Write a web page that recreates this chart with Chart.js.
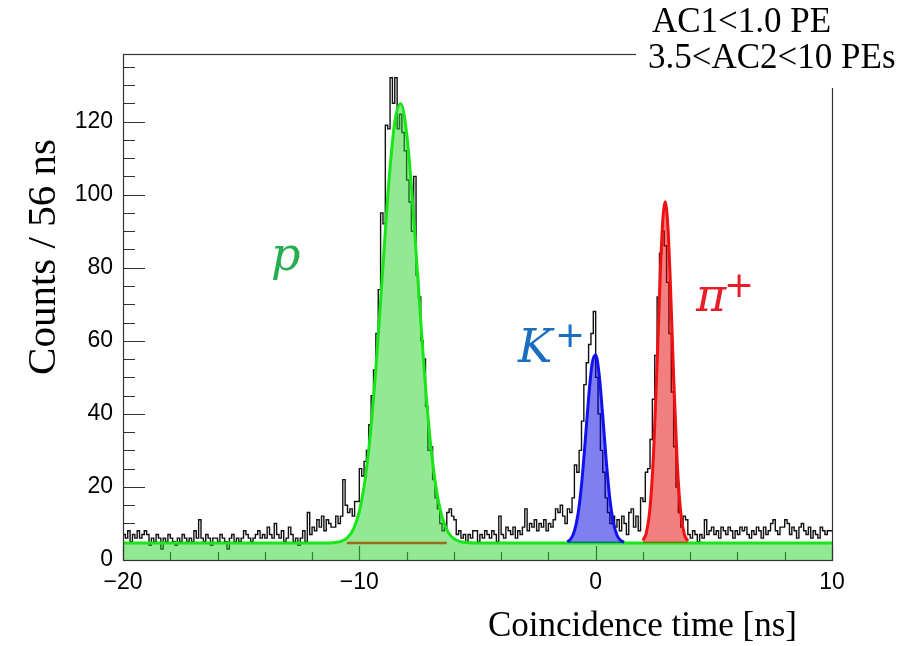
<!DOCTYPE html>
<html lang="en">
<head>
<meta charset="UTF-8">
<title>Coincidence time</title>
<script src="https://cdn.jsdelivr.net/npm/chart.js"></script>
<style>
    body { margin: 0; background: #fff; }
    #wrap { width: 912px; height: 646px; }
</style>
</head>
<body>
<div id="wrap"><canvas id="tofChart" width="912" height="646"></canvas></div>
<script>
// histogram, 0.1 ns bins from -20 to 10 ns
const binStart = -20;
const binWidth = 0.1;
const counts = [
    8, 7, 6, 8, 5, 7, 6, 8, 6, 7,
    8, 7, 4, 6, 5, 7, 6, 3, 6, 5,
    7, 6, 5, 4, 6, 5, 7, 6, 5, 6,
    5, 8, 6, 11, 6, 5, 7, 6, 4, 6,
    6, 5, 7, 6, 5, 3, 6, 7, 5, 6,
    5, 6, 8, 7, 6, 5, 6, 7, 8, 6,
    7, 6, 9, 7, 6, 10, 7, 6, 8, 5,
    6, 9, 7, 5, 6, 4, 6, 8, 5, 13,
    7, 9, 8, 11, 9, 12, 8, 11, 10, 9,
    9, 12, 10, 12, 22, 15, 13, 14, 12, 16,
    16, 25, 23, 27, 30, 37, 45, 52, 62, 74,
    95, 92, 119, 118, 132, 125, 132, 118, 122, 117,
    112, 104, 98, 90, 105, 78, 72, 60, 55, 42,
    30, 31, 22, 17, 14, 10, 8, 9, 13, 14,
    12, 11, 7, 8, 6, 7, 5, 7, 6, 8,
    8, 5, 7, 6, 8, 7, 6, 8, 7, 5,
    12, 7, 6, 9, 8, 7, 9, 6, 8, 7,
    9, 14, 8, 10, 9, 11, 8, 10, 9, 11,
    8, 10, 9, 11, 14, 13, 15, 12, 10, 14,
    13, 17, 26, 24, 30, 38, 48, 54, 59, 62,
    68, 50, 40, 30, 24, 17, 13, 10, 12, 9,
    11, 8, 12, 10, 7, 13, 14, 9, 12, 8,
    17, 16, 24, 25, 33, 44, 56, 72, 84, 90,
    86, 76, 62, 46, 31, 20, 13, 9, 12, 11,
    7, 6, 8, 7, 5, 7, 6, 11, 7, 8,
    9, 7, 8, 6, 9, 8, 7, 9, 8, 6,
    8, 7, 9, 8, 9, 7, 6, 8, 7, 9,
    8, 6, 9, 7, 8, 10, 11, 8, 7, 9,
    9, 11, 10, 7, 9, 8, 6, 9, 10, 8,
    7, 9, 6, 8, 7, 6, 9, 8, 7, 8
];

// fitted curves
const protonX = [-20, -11.5, -11.0, -10.75, -10.5, -10.25, -10.0, -9.75, -9.5, -9.25, -9.0, -8.75, -8.5, -8.25,
    -8.0, -7.75, -7.5, -7.25, -7.0, -6.75, -6.5, -6.25, -6.0, -5.75, -5.5, -5.0, 10];
const protonY = [4.65, 4.66, 4.82, 5.18, 6.16, 8.48, 13.3, 22.3, 36.7, 56.8, 80.5, 103.5, 119.9, 124.9,
    116.9, 98.4, 74.7, 51.5, 32.7, 19.7, 11.8, 7.7, 5.83, 5.06, 4.78, 4.66, 4.65];
const bgX = [-10.53, -6.3];
const bgY = [4.65, 4.65];
const kaonX = [-1.2, -1.05, -0.9, -0.75, -0.6, -0.45, -0.3, -0.15, 0, 0.15, 0.3, 0.45, 0.6, 0.75, 0.9, 1.05, 1.2];
const kaonY = [5.0, 5.81, 7.91, 12.45, 20.45, 31.85, 44.3, 53.75, 56.2, 50.6, 39.4, 26.95, 16.8, 10.26, 6.85, 5.38, 4.86];
const pionX = [2.0, 2.15, 2.3, 2.45, 2.6, 2.75, 2.85, 2.94, 3.05, 3.15, 3.3, 3.45, 3.6, 3.75, 3.9];
const pionY = [5.34, 7.57, 14.24, 29.25, 53.8, 81.05, 93.95, 98.05, 91.95, 77.75, 50.1, 26.65, 12.95, 7.09, 5.21];

const xTicks = [-20, -10, 0, 10];
const yTicks = [0, 20, 40, 60, 80, 100, 120];

const pts = (xs, ys) => xs.map((x, i) => ({ x: x, y: ys[i] }));

const histPts = counts.map((c, i) => ({ x: binStart + i * binWidth, y: c }));
histPts.push({ x: binStart + counts.length * binWidth, y: counts[counts.length - 1] });

const tickFont = { family: 'Liberation Sans', size: 23 };

// ROOT style frame, inner ticks and labels
const rootStyle = {
    id: 'rootStyle',
    beforeDatasetsDraw(chart) {
        const { ctx, chartArea: a, scales: { x, y } } = chart;
        ctx.save();
        ctx.strokeStyle = '#333';
        ctx.lineWidth = 1.2;
        ctx.beginPath();
        for (let v = 0; v <= 135; v += 5) {
            const py = Math.round(y.getPixelForValue(v)) + 0.5;
            const len = v % 20 === 0 ? 22 : 12;
            ctx.moveTo(a.left, py);
            ctx.lineTo(a.left + len, py);
        }
        for (let v = -20; v <= 10; v += 2) {
            const px = Math.round(x.getPixelForValue(v)) + 0.5;
            const len = v % 10 === 0 ? 14 : 8;
            ctx.moveTo(px, a.bottom);
            ctx.lineTo(px, a.bottom - len);
        }
        ctx.stroke();
        ctx.restore();
    },
    afterDatasetsDraw(chart) {
        const { ctx, chartArea: a } = chart;
        ctx.save();
        ctx.strokeStyle = '#333';
        ctx.lineWidth = 1.2;
        ctx.strokeRect(a.left + 0.5, a.top + 0.5, a.right - a.left, a.bottom - a.top);

        // particle labels
        ctx.textAlign = 'left';
        ctx.textBaseline = 'alphabetic';
        ctx.font = 'italic 46px "DejaVu Serif"';
        ctx.fillStyle = '#26ad50';
        ctx.fillText('p', 271, 270);
        ctx.fillStyle = '#1a6ec0';
        ctx.fillText('K', 518, 362);
        ctx.fillStyle = '#e61e28';
        ctx.fillText('\u03c0', 696, 311);
        ctx.font = '36px "DejaVu Sans"';
        ctx.fillStyle = '#1a6ec0';
        ctx.fillText('+', 555, 347);
        ctx.fillStyle = '#e61e28';
        ctx.fillText('+', 724, 297);

        // cut box
        ctx.fillStyle = '#fff';
        ctx.fillRect(636, 0, 276, 88);
        ctx.fillStyle = '#000';
        ctx.font = '35px "Liberation Serif"';
        ctx.fillText('AC1<1.0 PE', 652, 32);
        ctx.fillText('3.5<AC2<10 PEs', 648, 68);

        // axis titles
        ctx.font = '35px "Liberation Serif"';
        ctx.textAlign = 'right';
        ctx.fillText('Coincidence time [ns]', 797, 636);
        ctx.translate(55, 257);
        ctx.rotate(-Math.PI / 2);
        ctx.textAlign = 'center';
        ctx.font = '41px "Liberation Serif"';
        ctx.fillText('Counts / 56 ns', 0, 0);
        ctx.restore();
    }
};

new Chart(document.getElementById('tofChart'), {
    type: 'line',
    data: {
        datasets: [
            {
                label: 'data',
                data: histPts,
                stepped: 'after',
                borderColor: '#111',
                borderWidth: 1.4,
                pointRadius: 0,
                fill: false,
                order: 10
            },
            {
                label: 'p',
                data: pts(protonX, protonY),
                borderColor: '#19e619',
                backgroundColor: 'rgba(40, 210, 40, 0.5)',
                borderWidth: 3,
                pointRadius: 0,
                cubicInterpolationMode: 'monotone',
                fill: 'origin',
                order: 3
            },
            {
                label: 'bg',
                data: pts(bgX, bgY),
                borderColor: '#9a6a1a',
                borderWidth: 2.5,
                pointRadius: 0,
                fill: false,
                order: 2
            },
            {
                label: 'K+',
                data: pts(kaonX, kaonY),
                borderColor: '#1212f0',
                backgroundColor: 'rgba(0, 0, 230, 0.5)',
                borderWidth: 3,
                pointRadius: 0,
                cubicInterpolationMode: 'monotone',
                fill: { value: 4.65 },
                order: 1
            },
            {
                label: 'pi+',
                data: pts(pionX, pionY),
                borderColor: '#f01212',
                backgroundColor: 'rgba(230, 0, 0, 0.5)',
                borderWidth: 3,
                pointRadius: 0,
                cubicInterpolationMode: 'monotone',
                fill: { value: 4.65 },
                order: 0
            }
        ]
    },
    options: {
        responsive: false,
        animation: false,
        devicePixelRatio: 1,
        layout: { padding: { top: 54, right: 80, left: 0, bottom: 0 } },
        plugins: { legend: { display: false }, tooltip: { enabled: false } },
        scales: {
            x: {
                type: 'linear',
                min: -20,
                max: 10,
                grid: { display: false, drawTicks: false },
                border: { display: false },
                afterBuildTicks: s => { s.ticks = xTicks.map(v => ({ value: v })); },
                afterFit: s => { s.height = 86; },
                ticks: {
                    padding: 9,
                    font: tickFont,
                    color: '#000',
                    maxRotation: 0,
                    autoSkip: false,
                    callback: v => String(v).replace('-', '\u2212')
                }
            },
            y: {
                type: 'linear',
                min: 0,
                max: 138.5,
                grid: { display: false, drawTicks: false },
                border: { display: false },
                afterBuildTicks: s => { s.ticks = yTicks.map(v => ({ value: v })); },
                afterFit: s => { s.width = 123; },
                ticks: { padding: 10, font: tickFont, color: '#000' }
            }
        }
    },
    plugins: [rootStyle]
});
</script>
</body>
</html>
